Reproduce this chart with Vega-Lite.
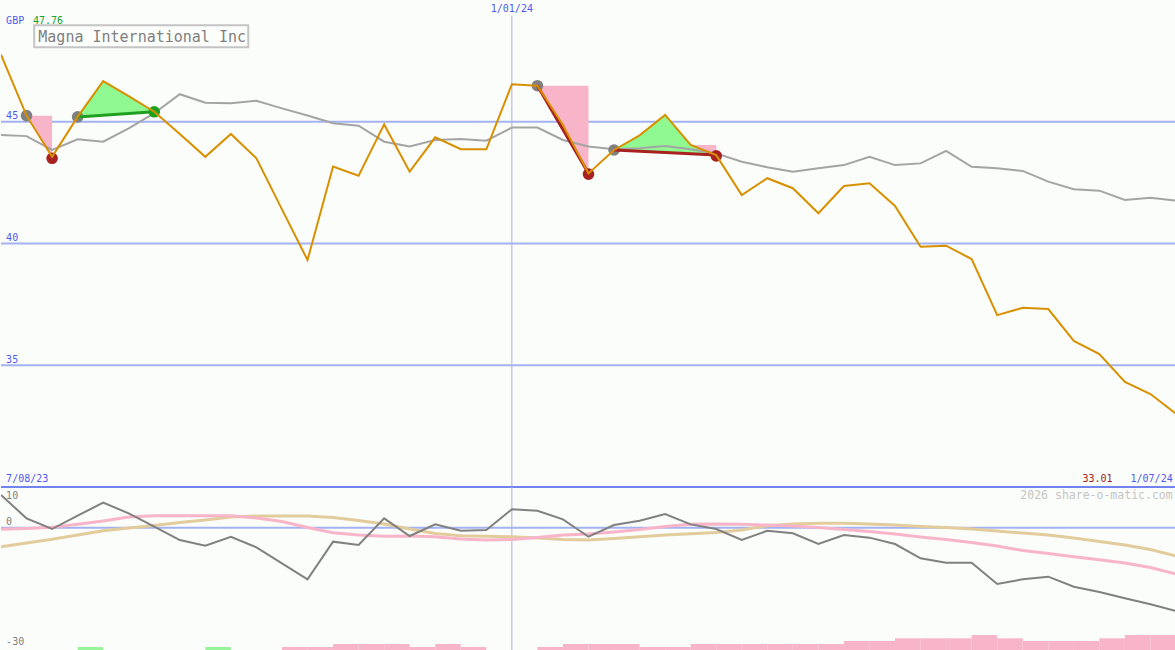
{
  "$schema": "https://vega.github.io/schema/vega-lite/v6.json",
  "background": "#fbfdfa",
  "padding": 0,
  "spacing": 0,
  "bounds": "flush",
  "config": {"view": {"stroke": null}, "concat": {"spacing": 0}, "text": {"font": "DejaVu Sans Mono"}},
  "datasets": {
    "price": [
      {"i":0,"p":47.76,"m":44.46},{"i":1,"p":45.25,"m":44.41},{"i":2,"p":43.56,"m":43.84},{"i":3,"p":45.2,"m":44.28},
      {"i":4,"p":46.67,"m":44.18},{"i":5,"p":46.05,"m":44.73},{"i":6,"p":45.41,"m":45.35},{"i":7,"p":44.5,"m":46.13},
      {"i":8,"p":43.56,"m":45.78},{"i":9,"p":44.5,"m":45.76},{"i":10,"p":43.5,"m":45.86},{"i":11,"p":41.4,"m":45.55},
      {"i":12,"p":39.32,"m":45.26},{"i":13,"p":43.16,"m":44.94},{"i":14,"p":42.78,"m":44.84},{"i":15,"p":44.89,"m":44.18},
      {"i":16,"p":42.95,"m":43.98},{"i":17,"p":44.36,"m":44.25},{"i":18,"p":43.87,"m":44.29},{"i":19,"p":43.87,"m":44.22},
      {"i":20,"p":46.54,"m":44.76},{"i":21,"p":46.48,"m":44.76},{"i":22,"p":44.87,"m":44.25},{"i":23,"p":42.88,"m":43.98},
      {"i":24,"p":43.84,"m":43.87},{"i":25,"p":44.44,"m":43.91},{"i":26,"p":45.28,"m":44.0},{"i":27,"p":44.05,"m":43.87},
      {"i":28,"p":43.63,"m":43.7},{"i":29,"p":41.99,"m":43.36},{"i":30,"p":42.68,"m":43.13},{"i":31,"p":42.27,"m":42.95},
      {"i":32,"p":41.24,"m":43.09},{"i":33,"p":42.36,"m":43.22},{"i":34,"p":42.47,"m":43.56},{"i":35,"p":41.54,"m":43.22},
      {"i":36,"p":39.87,"m":43.29},{"i":37,"p":39.91,"m":43.8},{"i":38,"p":39.36,"m":43.15},{"i":39,"p":37.06,"m":43.09},
      {"i":40,"p":37.36,"m":42.98},{"i":41,"p":37.31,"m":42.54},{"i":42,"p":36.0,"m":42.23},{"i":43,"p":35.46,"m":42.17},
      {"i":44,"p":34.32,"m":41.79},{"i":45,"p":33.82,"m":41.88},{"i":46,"p":33.01,"m":41.76}
    ],
    "osc": [
      {"i":0,"o":8.04,"s":-0.39,"t":-4.65},{"i":1,"o":2.31,"s":-0.18,"t":-3.74},{"i":2,"o":-0.31,"s":0.1,"t":-2.84},
      {"i":3,"o":2.96,"s":0.84,"t":-1.78},{"i":4,"o":6.15,"s":1.66,"t":-0.72},{"i":5,"o":3.54,"s":2.64,"t":-0.06},
      {"i":6,"o":0.26,"s":2.96,"t":0.55},{"i":7,"o":-3.01,"s":2.96,"t":1.29},{"i":8,"o":-4.41,"s":2.96,"t":1.9},
      {"i":9,"o":-2.2,"s":2.96,"t":2.64},{"i":10,"o":-4.8,"s":2.4,"t":2.88},{"i":11,"o":-8.73,"s":1.53,"t":2.88},
      {"i":12,"o":-12.65,"s":0.06,"t":2.88},{"i":13,"o":-3.42,"s":-1.21,"t":2.52},{"i":14,"o":-4.23,"s":-1.78,"t":1.78},
      {"i":15,"o":2.31,"s":-2.1,"t":0.92},{"i":16,"o":-2.02,"s":-2.02,"t":-0.31},{"i":17,"o":0.83,"s":-2.2,"t":-1.41},
      {"i":18,"o":-0.74,"s":-2.76,"t":-1.95},{"i":19,"o":-0.56,"s":-3.0,"t":-2.1},{"i":20,"o":4.53,"s":-2.88,"t":-2.2},
      {"i":21,"o":4.18,"s":-2.39,"t":-2.52},{"i":22,"o":2.07,"s":-1.78,"t":-2.88},{"i":23,"o":-2.2,"s":-1.53,"t":-3.0},
      {"i":24,"o":0.67,"s":-1.04,"t":-2.64},{"i":25,"o":1.72,"s":-0.43,"t":-2.2},{"i":26,"o":3.37,"s":0.3,"t":-1.78},
      {"i":27,"o":0.83,"s":0.84,"t":-1.46},{"i":28,"o":-0.31,"s":0.92,"t":-1.17},{"i":29,"o":-3.01,"s":0.84,"t":-0.55},
      {"i":30,"o":-0.74,"s":0.67,"t":0.5},{"i":31,"o":-1.37,"s":0.43,"t":0.92},{"i":32,"o":-3.99,"s":0.06,"t":1.09},
      {"i":33,"o":-1.78,"s":-0.43,"t":1.09},{"i":34,"o":-2.43,"s":-0.92,"t":0.92},{"i":35,"o":-3.99,"s":-1.53,"t":0.67},
      {"i":36,"o":-7.5,"s":-2.27,"t":0.31},{"i":37,"o":-8.57,"s":-2.88,"t":0.06},{"i":38,"o":-8.57,"s":-3.62,"t":-0.31},
      {"i":39,"o":-13.8,"s":-4.48,"t":-0.8},{"i":40,"o":-12.65,"s":-5.58,"t":-1.29},{"i":41,"o":-12.0,"s":-6.32,"t":-1.78},
      {"i":42,"o":-14.47,"s":-7.1,"t":-2.52},{"i":43,"o":-15.77,"s":-7.87,"t":-3.37},{"i":44,"o":-17.32,"s":-8.65,"t":-4.23},
      {"i":45,"o":-18.79,"s":-9.75,"t":-5.34},{"i":46,"o":-20.43,"s":-11.35,"t":-6.93}
    ],
    "bars": [
      {"i":3,"j":4,"v":-29.26,"c":"#98f498"},{"i":8,"j":9,"v":-29.26,"c":"#98f498"},
      {"i":11,"j":12,"v":-29.26,"c":"#f8b4c8"},{"i":12,"j":13,"v":-29.26,"c":"#f8b4c8"},
      {"i":13,"j":14,"v":-28.53,"c":"#f8b4c8"},{"i":14,"j":15,"v":-28.53,"c":"#f8b4c8"},{"i":15,"j":16,"v":-28.53,"c":"#f8b4c8"},
      {"i":16,"j":17,"v":-29.26,"c":"#f8b4c8"},{"i":17,"j":18,"v":-28.53,"c":"#f8b4c8"},{"i":18,"j":19,"v":-29.26,"c":"#f8b4c8"},
      {"i":21,"j":22,"v":-29.26,"c":"#f8b4c8"},{"i":22,"j":23,"v":-28.53,"c":"#f8b4c8"},{"i":23,"j":24,"v":-28.53,"c":"#f8b4c8"},
      {"i":24,"j":25,"v":-28.53,"c":"#f8b4c8"},{"i":25,"j":26,"v":-29.26,"c":"#f8b4c8"},{"i":26,"j":27,"v":-29.26,"c":"#f8b4c8"},
      {"i":27,"j":28,"v":-28.53,"c":"#f8b4c8"},{"i":28,"j":29,"v":-28.53,"c":"#f8b4c8"},{"i":29,"j":30,"v":-28.53,"c":"#f8b4c8"},
      {"i":30,"j":31,"v":-28.53,"c":"#f8b4c8"},{"i":31,"j":32,"v":-28.53,"c":"#f8b4c8"},{"i":32,"j":33,"v":-28.53,"c":"#f8b4c8"},
      {"i":33,"j":34,"v":-27.79,"c":"#f8b4c8"},{"i":34,"j":35,"v":-27.79,"c":"#f8b4c8"},
      {"i":35,"j":36,"v":-27.13,"c":"#f8b4c8"},{"i":36,"j":37,"v":-27.13,"c":"#f8b4c8"},{"i":37,"j":38,"v":-27.13,"c":"#f8b4c8"},
      {"i":38,"j":39,"v":-26.32,"c":"#f8b4c8"},{"i":39,"j":40,"v":-27.13,"c":"#f8b4c8"},
      {"i":40,"j":41,"v":-27.79,"c":"#f8b4c8"},{"i":41,"j":42,"v":-27.79,"c":"#f8b4c8"},{"i":42,"j":43,"v":-27.79,"c":"#f8b4c8"},
      {"i":43,"j":44,"v":-27.13,"c":"#f8b4c8"},{"i":44,"j":45,"v":-26.32,"c":"#f8b4c8"},{"i":45,"j":46,"v":-26.32,"c":"#f8b4c8"}
    ],
    "areas": [
      {"g":"a1","i":1,"y":45.25,"y2":45.25,"c":"#f8b4c8"},{"g":"a1","i":2,"y":43.56,"y2":45.25,"c":"#f8b4c8"},
      {"g":"a2","i":3,"y":45.2,"y2":45.2,"c":"#90f890"},{"g":"a2","i":4,"y":46.67,"y2":45.27,"c":"#90f890"},
      {"g":"a2","i":5,"y":46.05,"y2":45.34,"c":"#90f890"},{"g":"a2","i":6,"y":45.41,"y2":45.41,"c":"#90f890"},
      {"g":"a3","i":21,"y":46.48,"y2":46.48,"c":"#f8b4c8"},{"g":"a3","i":22,"y":44.87,"y2":46.48,"c":"#f8b4c8"},
      {"g":"a3","i":23,"y":42.88,"y2":46.48,"c":"#f8b4c8"},
      {"g":"a4","i":24,"y":43.84,"y2":43.84,"c":"#90f890"},{"g":"a4","i":25,"y":44.44,"y2":43.79,"c":"#90f890"},
      {"g":"a4","i":26,"y":45.28,"y2":43.74,"c":"#90f890"},{"g":"a4","i":27,"y":44.05,"y2":43.68,"c":"#90f890"},
      {"g":"a4","i":28,"y":43.63,"y2":43.63,"c":"#90f890"},
      {"g":"a5","i":27,"y":44.05,"y2":44.05,"c":"#f8b4c8"},{"g":"a5","i":28,"y":43.63,"y2":44.05,"c":"#f8b4c8"}
    ],
    "sig": [
      {"g":"s1","i":3,"v":45.2,"c":"#20a020"},{"g":"s1","i":6,"v":45.41,"c":"#20a020"},
      {"g":"s2","i":21,"v":46.48,"c":"#a82020"},{"g":"s2","i":23,"v":42.88,"c":"#a82020"},
      {"g":"s3","i":24,"v":43.84,"c":"#a82020"},{"g":"s3","i":28,"v":43.63,"c":"#a82020"}
    ],
    "marks": [
      {"i":1,"v":45.25,"c":"#808080"},{"i":3,"v":45.2,"c":"#808080"},{"i":21,"v":46.48,"c":"#808080"},{"i":24,"v":43.84,"c":"#808080"},
      {"i":2,"v":43.5,"c":"#a82020"},{"i":23,"v":42.85,"c":"#a82020"},{"i":28,"v":43.6,"c":"#a82020"},
      {"i":6,"v":45.41,"c":"#20a020"}
    ],
    "topLeft": [
      {"i":0.2,"v":49.12,"t":"GBP","c":"#5058f0","s":10},
      {"i":1.25,"v":49.12,"t":"47.76","c":"#20a020","s":10},
      {"i":0.2,"v":45.24,"t":"45","c":"#5058f0","s":10},
      {"i":0.2,"v":40.21,"t":"40","c":"#5058f0","s":10},
      {"i":0.2,"v":35.22,"t":"35","c":"#5058f0","s":10},
      {"i":0.2,"v":30.33,"t":"7/08/23","c":"#5058f0","s":10},
      {"i":1.46,"v":48.5,"t":"Magna International Inc","c":"#808080","s":15}
    ],
    "topRight": [
      {"i":45.87,"v":30.33,"t":"1/07/24","c":"#5058f0","s":10},
      {"i":43.52,"v":30.33,"t":"33.01","c":"#a02020","s":10}
    ],
    "botLeft": [
      {"i":0.2,"v":7.79,"t":"10","c":"#808080","s":10},
      {"i":0.2,"v":1.34,"t":"0","c":"#808080","s":10},
      {"i":0.2,"v":-28.1,"t":"-30","c":"#808080","s":10}
    ]
  },
  "vconcat": [
    {
      "width": 1175,
      "height": 487,
      "encoding": {
        "x": {"field": "i", "type": "quantitative", "scale": {"domain": [0, 46], "nice": false, "zero": false}, "axis": null}
      },
      "layer": [
        {
          "data": {"values": [{"v": 35}, {"v": 40}, {"v": 45}]},
          "mark": {"type": "rule", "color": "#a4b2f2", "strokeWidth": 2},
          "encoding": {"x": null, "y": {"field": "v", "type": "quantitative", "scale": {"domain": [30, 50], "nice": false, "zero": false}, "axis": null}}
        },
        {
          "data": {"values": [{"i": 20, "a": 49.35, "b": 30}]},
          "mark": {"type": "rule", "color": "#a8b0e4", "strokeWidth": 1},
          "encoding": {"y": {"field": "a", "type": "quantitative", "scale": {"domain": [30, 50], "nice": false, "zero": false}, "axis": null}, "y2": {"field": "b"}}
        },
        {
          "data": {"name": "areas"},
          "mark": {"type": "area", "opacity": 1},
          "encoding": {
            "y": {"field": "y", "type": "quantitative", "stack": null, "scale": {"domain": [30, 50], "nice": false, "zero": false}, "axis": null},
            "y2": {"field": "y2"},
            "detail": {"field": "g"},
            "color": {"field": "c", "type": "nominal", "scale": null}
          }
        },
        {
          "data": {"name": "price"},
          "mark": {"type": "line", "color": "#a4a4a4", "strokeWidth": 2, "clip": true},
          "encoding": {"y": {"field": "m", "type": "quantitative", "scale": {"domain": [30, 50], "nice": false, "zero": false}, "axis": null}}
        },
        {
          "data": {"name": "marks"},
          "mark": {"type": "circle", "size": 135, "opacity": 1},
          "encoding": {
            "y": {"field": "v", "type": "quantitative", "scale": {"domain": [30, 50], "nice": false, "zero": false}, "axis": null},
            "color": {"field": "c", "type": "nominal", "scale": null}
          }
        },
        {
          "data": {"name": "sig"},
          "mark": {"type": "line", "strokeWidth": 3},
          "encoding": {
            "y": {"field": "v", "type": "quantitative", "scale": {"domain": [30, 50], "nice": false, "zero": false}, "axis": null},
            "detail": {"field": "g"},
            "color": {"field": "c", "type": "nominal", "scale": null}
          }
        },
        {
          "data": {"name": "price"},
          "mark": {"type": "line", "color": "#d89000", "strokeWidth": 2, "clip": true},
          "encoding": {"y": {"field": "p", "type": "quantitative", "scale": {"domain": [30, 50], "nice": false, "zero": false}, "axis": null}}
        },
        {
          "data": {"values": [{"v": 30}]},
          "mark": {"type": "rule", "color": "#7282f0", "strokeWidth": 2},
          "encoding": {"x": null, "y": {"field": "v", "type": "quantitative", "scale": {"domain": [30, 50], "nice": false, "zero": false}, "axis": null}}
        },
        {
          "data": {"values": [{"i": 1.3, "j": 9.68, "a": 48.96, "b": 48.06}]},
          "mark": {"type": "rect", "fill": "#fcfefc", "stroke": "#c4c4c4", "strokeWidth": 2},
          "encoding": {"x2": {"field": "j"}, "y": {"field": "a", "type": "quantitative", "scale": {"domain": [30, 50], "nice": false, "zero": false}, "axis": null}, "y2": {"field": "b"}}
        },
        {
          "data": {"name": "topLeft"},
          "mark": {"type": "text", "align": "left", "baseline": "middle", "font": "DejaVu Sans Mono"},
          "encoding": {
            "y": {"field": "v", "type": "quantitative", "scale": {"domain": [30, 50], "nice": false, "zero": false}, "axis": null},
            "text": {"field": "t"},
            "color": {"field": "c", "type": "nominal", "scale": null},
            "size": {"field": "s", "type": "quantitative", "scale": null}
          }
        },
        {
          "data": {"name": "topRight"},
          "mark": {"type": "text", "align": "right", "baseline": "middle", "font": "DejaVu Sans Mono"},
          "encoding": {
            "y": {"field": "v", "type": "quantitative", "scale": {"domain": [30, 50], "nice": false, "zero": false}, "axis": null},
            "text": {"field": "t"},
            "color": {"field": "c", "type": "nominal", "scale": null},
            "size": {"field": "s", "type": "quantitative", "scale": null}
          }
        },
        {
          "data": {"values": [{"i": 20, "v": 49.63, "t": "1/01/24"}]},
          "mark": {"type": "text", "align": "center", "baseline": "middle", "font": "DejaVu Sans Mono", "fontSize": 10, "color": "#5058f0"},
          "encoding": {
            "y": {"field": "v", "type": "quantitative", "scale": {"domain": [30, 50], "nice": false, "zero": false}, "axis": null},
            "text": {"field": "t"}
          }
        }
      ]
    },
    {
      "width": 1175,
      "height": 163,
      "encoding": {
        "x": {"field": "i", "type": "quantitative", "scale": {"domain": [0, 46], "nice": false, "zero": false}, "axis": null}
      },
      "layer": [
        {
          "data": {"name": "bars"},
          "mark": {"type": "rect"},
          "encoding": {
            "x2": {"field": "j"},
            "y": {"field": "v", "type": "quantitative", "scale": {"domain": [-30, 10], "nice": false, "zero": false}, "axis": null},
            "y2": {"datum": -30},
            "color": {"field": "c", "type": "nominal", "scale": null}
          }
        },
        {
          "data": {"values": [{"v": 0}]},
          "mark": {"type": "rule", "color": "#a4b2f2", "strokeWidth": 2},
          "encoding": {"x": null, "y": {"field": "v", "type": "quantitative", "scale": {"domain": [-30, 10], "nice": false, "zero": false}, "axis": null}}
        },
        {
          "data": {"values": [{"i": 20, "a": 10, "b": -30}]},
          "mark": {"type": "rule", "color": "#a8b0e4", "strokeWidth": 1},
          "encoding": {"y": {"field": "a", "type": "quantitative", "scale": {"domain": [-30, 10], "nice": false, "zero": false}, "axis": null}, "y2": {"field": "b"}}
        },
        {
          "data": {"name": "osc"},
          "mark": {"type": "line", "color": "#e2cc9c", "strokeWidth": 3, "clip": true},
          "encoding": {"y": {"field": "t", "type": "quantitative", "scale": {"domain": [-30, 10], "nice": false, "zero": false}, "axis": null}}
        },
        {
          "data": {"name": "osc"},
          "mark": {"type": "line", "color": "#f8b4c8", "strokeWidth": 3, "clip": true},
          "encoding": {"y": {"field": "s", "type": "quantitative", "scale": {"domain": [-30, 10], "nice": false, "zero": false}, "axis": null}}
        },
        {
          "data": {"name": "osc"},
          "mark": {"type": "line", "color": "#808080", "strokeWidth": 2, "clip": true},
          "encoding": {"y": {"field": "o", "type": "quantitative", "scale": {"domain": [-30, 10], "nice": false, "zero": false}, "axis": null}}
        },
        {
          "data": {"name": "botLeft"},
          "mark": {"type": "text", "align": "left", "baseline": "middle", "font": "DejaVu Sans Mono"},
          "encoding": {
            "y": {"field": "v", "type": "quantitative", "scale": {"domain": [-30, 10], "nice": false, "zero": false}, "axis": null},
            "text": {"field": "t"},
            "color": {"field": "c", "type": "nominal", "scale": null},
            "size": {"field": "s", "type": "quantitative", "scale": null}
          }
        },
        {
          "data": {"values": [{"i": 45.87, "v": 7.79, "t": "2026 share-o-matic.com"}]},
          "mark": {"type": "text", "align": "right", "baseline": "middle", "font": "DejaVu Sans Mono", "fontSize": 11.5, "color": "#c4c4c4"},
          "encoding": {
            "y": {"field": "v", "type": "quantitative", "scale": {"domain": [-30, 10], "nice": false, "zero": false}, "axis": null},
            "text": {"field": "t"}
          }
        }
      ]
    }
  ]
}
